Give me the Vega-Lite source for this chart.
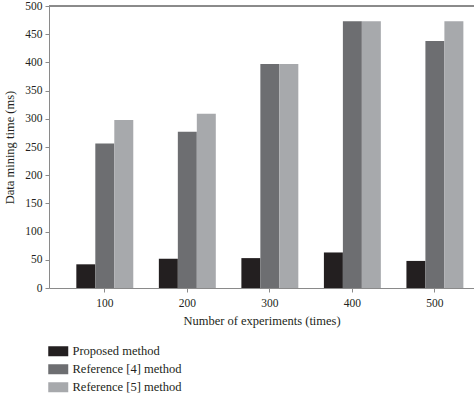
{
  "$schema": "https://vega.github.io/schema/vega-lite/v6.json",
  "width": 425,
  "height": 282,
  "autosize": "none",
  "padding": {"left": 49, "top": 6, "right": 0, "bottom": 110},
  "background": "white",
  "config": {
    "view": {"stroke": null},
    "font": "Liberation Serif",
    "axis": {"labelFont": "Liberation Serif", "titleFont": "Liberation Serif", "labelColor": "#231f20", "titleColor": "#231f20", "domainColor": "#8a8a8a", "tickColor": "#8a8a8a", "grid": false, "labelFontSize": 11.5, "titleFontSize": 12.5, "titleFontWeight": "normal", "labelOverlap": false},
    "legend": {"labelFont": "Liberation Serif", "labelFontSize": 12.5, "labelColor": "#231f20"}
  },
  "data": {
    "values": [
      {"n": "100", "method": "Proposed method", "time": 42},
      {"n": "100", "method": "Reference [4] method", "time": 256},
      {"n": "100", "method": "Reference [5] method", "time": 298},
      {"n": "200", "method": "Proposed method", "time": 52},
      {"n": "200", "method": "Reference [4] method", "time": 277},
      {"n": "200", "method": "Reference [5] method", "time": 309},
      {"n": "300", "method": "Proposed method", "time": 53},
      {"n": "300", "method": "Reference [4] method", "time": 397},
      {"n": "300", "method": "Reference [5] method", "time": 397},
      {"n": "400", "method": "Proposed method", "time": 63},
      {"n": "400", "method": "Reference [4] method", "time": 473},
      {"n": "400", "method": "Reference [5] method", "time": 473},
      {"n": "500", "method": "Proposed method", "time": 48},
      {"n": "500", "method": "Reference [4] method", "time": 438},
      {"n": "500", "method": "Reference [5] method", "time": 473}
    ]
  },
  "layer": [
    {
      "mark": {"type": "bar"},
      "encoding": {
        "x": {
          "field": "n", "type": "nominal", "sort": null,
          "scale": {"paddingInner": 0.31, "paddingOuter": 0.23, "align": 0.72},
          "axis": {"title": "Number of experiments (times)", "labelAngle": 0, "tickSize": 4, "labelPadding": 5, "titlePadding": 6}
        },
        "xOffset": {"field": "method", "type": "nominal", "scale": {"paddingInner": 0, "paddingOuter": 0}},
        "y": {
          "field": "time", "type": "quantitative",
          "scale": {"domain": [0, 500], "nice": false},
          "axis": {"title": "Data mining time (ms)", "values": [0,50,100,150,200,250,300,350,400,450,500], "tickCount": 11, "labelOverlap": false, "tickSize": 4, "labelPadding": 3, "titlePadding": 8}
        },
        "color": {
          "field": "method", "type": "nominal",
          "scale": {"domain": ["Proposed method", "Reference [4] method", "Reference [5] method"], "range": ["#231f20", "#6d6e71", "#a7a9ac"]},
          "legend": {"title": null, "orient": "none", "legendX": 3, "legendY": 339, "symbolType": "M-2,-1H2V1H-2Z", "symbolSize": 100, "symbolStrokeWidth": 0, "rowPadding": 5, "labelOffset": 8}
        }
      }
    },
    {
      "mark": {"type": "rule", "color": "#8a8a8a", "strokeWidth": 1},
      "encoding": {
        "y": {"datum": 500, "type": "quantitative", "axis": {"title": "Data mining time (ms)", "values": [0,50,100,150,200,250,300,350,400,450,500], "tickCount": 11, "labelOverlap": false, "tickSize": 4, "labelPadding": 3, "titlePadding": 8}}
      }
    }
  ]
}
